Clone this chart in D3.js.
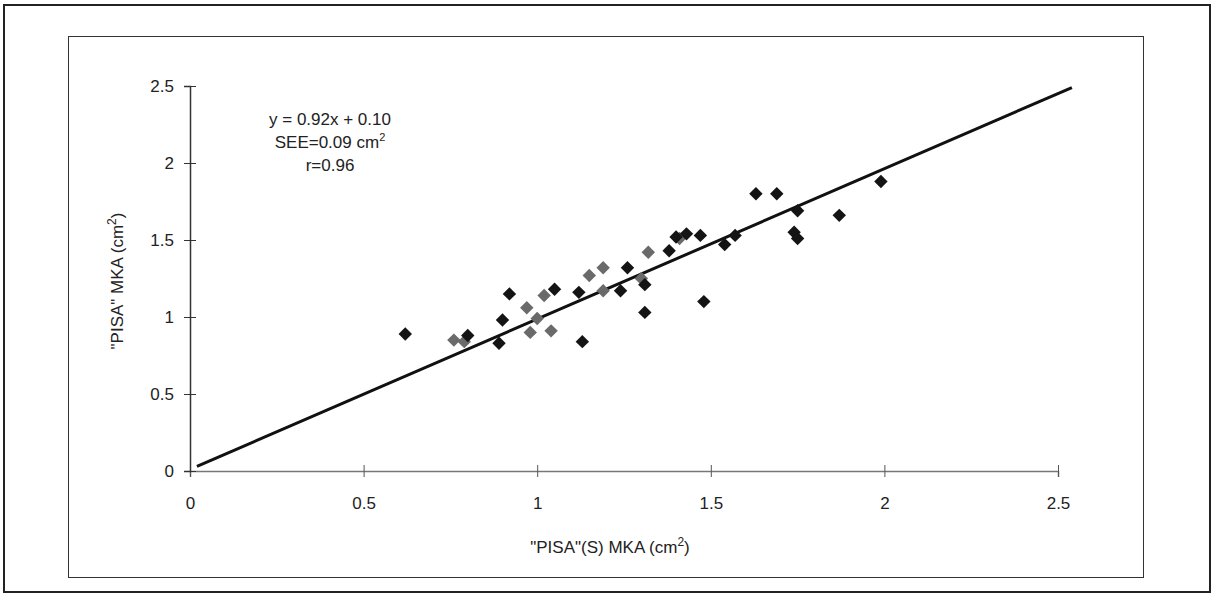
<!DOCTYPE html>
<html>
<head>
<meta charset="utf-8">
<script src="https://cdn.jsdelivr.net/npm/d3@7"></script>
<style>
  body { margin: 0; background: #fff; }
  svg text { font-family: "Liberation Sans", Arial, sans-serif; fill: #222; }
</style>
</head>
<body>
<div class="viz"></div>
<script>
// black diamonds
const blackX = [0.62, 0.80, 0.89, 0.90, 0.92, 1.05, 1.12, 1.13, 1.24, 1.26, 1.31, 1.31, 1.38, 1.40, 1.43, 1.47, 1.48, 1.54, 1.57, 1.63, 1.69, 1.75, 1.74, 1.75, 1.87, 1.99];
const blackY = [0.89, 0.88, 0.83, 0.98, 1.15, 1.18, 1.16, 0.84, 1.17, 1.32, 1.21, 1.03, 1.43, 1.52, 1.54, 1.53, 1.10, 1.47, 1.53, 1.80, 1.80, 1.69, 1.55, 1.51, 1.66, 1.88];
// grey diamonds
const greyX = [0.76, 0.79, 0.97, 1.00, 0.98, 1.04, 1.02, 1.15, 1.19, 1.19, 1.30, 1.32, 1.41];
const greyY = [0.85, 0.84, 1.06, 0.99, 0.90, 0.91, 1.14, 1.27, 1.32, 1.17, 1.25, 1.42, 1.51];
// fitted line end points
const lineX = [0.02, 2.54];
const lineY = [0.03, 2.49];

const xTicks = [0, 0.5, 1, 1.5, 2, 2.5];
const yTicks = [0, 0.5, 1, 1.5, 2, 2.5];
const notes = ["y = 0.92x + 0.10", "SEE=0.09 cm", "r=0.96"];

const width = 1218, height = 610;

const svg = d3.select(".viz").append("svg")
  .attr("width", width)
  .attr("height", height);

// frames
svg.append("rect")
  .attr("x", 4).attr("y", 5).attr("width", 1206).attr("height", 587)
  .attr("fill", "none").attr("stroke", "#222").attr("stroke-width", 2);
svg.append("rect")
  .attr("x", 68.5).attr("y", 36.5).attr("width", 1075).attr("height", 541)
  .attr("fill", "none").attr("stroke", "#333").attr("stroke-width", 1);

const xScale = d3.scaleLinear().domain([0, 2.5]).range([190, 1058]);
const yScale = d3.scaleLinear().domain([0, 2.5]).range([471, 86]);

// axes
const xAxis = svg.append("g")
  .attr("transform", `translate(0, ${yScale(0)})`)
  .call(d3.axisBottom(xScale).tickValues(xTicks).tickSize(6).tickPadding(20)
    .tickFormat(d3.format("")));
xAxis.select(".domain").attr("stroke", "#777").attr("stroke-width", 1.5);
xAxis.selectAll(".tick line").attr("y1", -6).attr("y2", 6).attr("stroke", "#555");
xAxis.selectAll(".tick text").attr("font-size", 17).attr("fill", "#222");

const yAxis = svg.append("g")
  .attr("transform", `translate(${xScale(0)}, 0)`)
  .call(d3.axisLeft(yScale).tickValues(yTicks).tickSize(6).tickPadding(10)
    .tickFormat(d3.format("")));
yAxis.select(".domain").attr("stroke", "#333").attr("stroke-width", 1.5);
yAxis.selectAll(".tick line").attr("x1", 6).attr("x2", -6).attr("stroke", "#333");
yAxis.selectAll(".tick text").attr("font-size", 17).attr("fill", "#222");

// regression line
svg.append("line")
  .attr("x1", xScale(lineX[0])).attr("y1", yScale(lineY[0]))
  .attr("x2", xScale(lineX[1])).attr("y2", yScale(lineY[1]))
  .attr("stroke", "#111").attr("stroke-width", 3);

const diamond = d3.symbol().type(d3.symbolSquare).size(90);

function drawPoints(xs, ys, color, cls) {
  svg.append("g").selectAll("path." + cls)
    .data(xs.map((x, i) => ({ x, y: ys[i] })))
    .join("path")
    .attr("class", cls)
    .attr("d", diamond)
    .attr("fill", color)
    .attr("transform", d => `translate(${xScale(d.x)},${yScale(d.y)}) rotate(45)`);
}
drawPoints(greyX, greyY, "#6a6a6a", "grey");
drawPoints(blackX, blackY, "#141414", "black");

// annotation
const note = svg.append("text")
  .attr("x", 330).attr("text-anchor", "middle").attr("font-size", 17);
note.append("tspan").attr("x", 330).attr("y", 125).text(notes[0]);
note.append("tspan").attr("x", 330).attr("y", 148).text(notes[1]);
note.append("tspan").attr("dy", -7).attr("font-size", 11).text("2");
note.append("tspan").attr("x", 330).attr("y", 171).text(notes[2]);

// axis titles
const xt = svg.append("text")
  .attr("x", 610).attr("y", 553).attr("text-anchor", "middle").attr("font-size", 17);
xt.append("tspan").text("\"PISA\"(S) MKA (cm");
xt.append("tspan").attr("dy", -7).attr("font-size", 12).text("2");
xt.append("tspan").attr("dy", 7).text(")");

const yt = svg.append("text")
  .attr("transform", "translate(123, 281) rotate(-90)")
  .attr("text-anchor", "middle").attr("font-size", 17);
yt.append("tspan").text("\"PISA\" MKA (cm");
yt.append("tspan").attr("dy", -7).attr("font-size", 12).text("2");
yt.append("tspan").attr("dy", 7).text(")");
</script>
</body>
</html>
